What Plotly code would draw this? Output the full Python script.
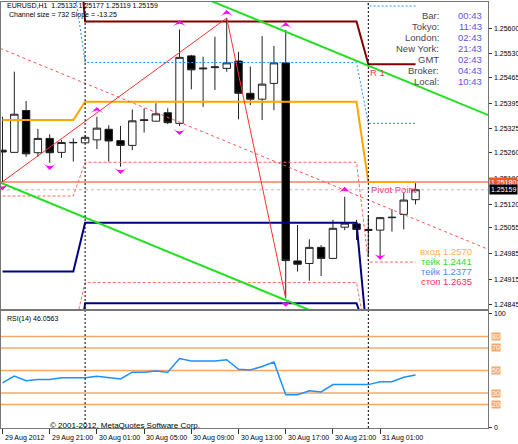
import plotly.graph_objects as go

W, H = 518, 444

# ------------------------------------------------------------------ data
symbol = "EURUSD,H1"
bars = list(range(36))  # 29 Aug 17:00 ... 31 Aug 04:00 (H1)
opens = [1.25267, 1.25261, 1.25375, 1.25260, 1.25299, 1.25261, 1.25287, 1.25287,
         1.25295, 1.25324, 1.25293, 1.25280, 1.25350, 1.25346, 1.25369, 1.25340,
         1.25524, 1.25491, 1.25492, 1.25490, 1.25510, 1.25422, 1.25406, 1.25449,
         1.25505, 1.24965, 1.24958, 1.25002, 1.24972, 1.25057, 1.25066, 1.25048,
         1.25049, 1.25083, 1.25092, 1.25132]
highs = [1.25358, 1.25481, 1.25401, 1.25325, 1.25310, 1.25295, 1.25299, 1.25308,
         1.25358, 1.25335, 1.25333, 1.25378, 1.25381, 1.25395, 1.25381, 1.25596,
         1.25527, 1.25522, 1.25576, 1.25627, 1.25535, 1.25495, 1.25578, 1.25551,
         1.25595, 1.25063, 1.25024, 1.25008, 1.25077, 1.25140, 1.25077, 1.25090,
         1.25085, 1.25106, 1.25151, 1.25177]
lows = [1.25181, 1.25261, 1.25249, 1.25249, 1.25233, 1.25246, 1.25236, 1.25286,
        1.25270, 1.25236, 1.25222, 1.25267, 1.25315, 1.25345, 1.25338, 1.25333,
        1.25433, 1.25385, 1.25431, 1.25481, 1.25351, 1.25390, 1.25349, 1.25376,
        1.24863, 1.24936, 1.24911, 1.24924, 1.24970, 1.25049, 1.25022, 1.24981,
        1.24975, 1.25045, 1.25051, 1.25119]
closes = [1.25262, 1.25365, 1.25257, 1.25299, 1.25260, 1.25288, 1.25288, 1.25302,
          1.25327, 1.25292, 1.25280, 1.25347, 1.25348, 1.25366, 1.25342, 1.25520,
          1.25486, 1.25489, 1.25494, 1.25505, 1.25422, 1.25406, 1.25447, 1.25505,
          1.24966, 1.24956, 1.25002, 1.24972, 1.25054, 1.25068, 1.25051, 1.25051,
          1.25083, 1.25084, 1.25131, 1.25159]
rsi_values = [39, 45, 41, 42, 42, 43.5, 43.5, 43.5, 45, 44, 42.5, 48.5, 48.5, 49.5,
              48.5, 60.5, 58.5, 58.5, 58.5, 59.5, 51, 50.5, 53.5, 57.5, 28.5, 28.5,
              32, 31, 37.5, 37.5, 37.5, 37.5, 40, 40, 44, 46.0563]
rsi_levels = [80, 70, 50, 30, 20]
rsi_axis_labels = [100, 0]

day_starts = [0, 7, 31]  # first bar of 29 Aug, 30 Aug, 31 Aug
level_r_top = [1.26000, 1.25618, 1.25501]    # maroon
level_blue_a = [1.25730, 1.25506, 1.25340]   # blue dotted
level_blue_b = [1.25900, 1.25850, 1.25660]   # blue dotted (upper)
level_orange = [1.25349, 1.25399, 1.25180]   # orange
level_red_a = [1.25142, 1.25234, 1.24962]    # red dashed
level_navy_a = [1.24936, 1.25069, 1.24720]   # navy
level_red_b = [1.24769, 1.24906, 1.24730]    # red dashed (lower)
level_navy_b = [1.24600, 1.24850, 1.24758]   # navy (lower)
pivot_price = 1.25180

zigzag_bars = [0, 19, 24]
zigzag_prices = [1.25181, 1.25627, 1.24863]

channel_start_bar = 0
channel_upper_start = 1.25908
channel_slope = -0.0001325
channel_size = 0.00732

up_fractal_bars = [8, 15, 19, 24, 29]
up_fractal_prices = [1.25385, 1.25622, 1.25649, 1.25616, 1.25167]
down_fractal_bars = [0, 4, 10, 15, 24, 32]
down_fractal_prices = [1.25158, 1.25213, 1.25202, 1.25308, 1.24840, 1.24968]

price_ticks = [1.25600, 1.25530, 1.25465, 1.25395, 1.25325, 1.25260, 1.25190,
               1.25120, 1.25055, 1.24985, 1.24915, 1.24845]
time_tick_bars = [0, 4, 8, 12, 16, 20, 24, 28, 32]
time_tick_labels = ["29 Aug 2012", "29 Aug 21:00", "30 Aug 01:00", "30 Aug 05:00",
                    "30 Aug 09:00", "30 Aug 13:00", "30 Aug 17:00", "30 Aug 21:00",
                    "31 Aug 01:00"]

info_names = ["Bar:", "Tokyo:", "London:", "New York:", "GMT", "Broker:", "Local:"]
info_values = ["00:43", "11:43", "02:43", "21:43", "02:43", "04:43", "10:43"]

trade_words = ["вход", "тейк", "тейк", "стоп"]
trade_prices = [1.2570, 1.2441, 1.2377, 1.2635]
trade_colors = ["#FFB050", "#33DD33", "#4A8FF0", "#FF3060"]

# ------------------------------------------------------------------ layout helpers
def px_x(x):
    return x / W


def px_y(y):
    return 1 - y / H


X_RANGE = [-0.127, 41.14]
MAIN_RANGE = [1.248340, 1.256709]
RSI_RANGE = [-0.885, 102.65]
X_DOM = [px_x(1), px_x(488)]
MAIN_DOM = [px_y(309), px_y(2)]
RSI_DOM = [px_y(428), px_y(311)]

FONT = "Liberation Sans, Arial, sans-serif"
SMALL = dict(family=FONT, size=7, color="#000")


def per_bar(levels):
    out = []
    for b in bars:
        d = sum(1 for s in day_starts if s <= b) - 1
        out.append(levels[d])
    return out


fig = go.Figure()

# candles
fig.add_trace(go.Candlestick(
    x=bars, open=opens, high=highs, low=lows, close=closes,
    increasing=dict(line=dict(color="#222", width=1), fillcolor="white"),
    decreasing=dict(line=dict(color="#222", width=1), fillcolor="#000"),
    hoverinfo="skip", xaxis="x", yaxis="y"))

# daily level lines
level_styles = [
    (level_blue_b, "#1E90FF", 1, "2px,2px"),
    (level_blue_a, "#1E90FF", 1, "2px,2px"),
    (level_red_a, "#FF6A5A", 1, "3px,2px"),
    (level_red_b, "#FF6A5A", 1, "3px,2px"),
    (level_r_top, "#800000", 2, "solid"),
    (level_orange, "#FFA500", 2, "solid"),
    (level_navy_a, "#000080", 2, "solid"),
    (level_navy_b, "#000080", 2, "solid"),
]
for vals, col, wd, dash in level_styles:
    fig.add_trace(go.Scatter(x=bars, y=per_bar(vals), mode="lines",
                             line=dict(color=col, width=wd, dash=dash),
                             hoverinfo="skip", xaxis="x", yaxis="y"))

# channel
cx = [X_RANGE[0] - 1, X_RANGE[1] + 1]
upper = [channel_upper_start + channel_slope * (b - channel_start_bar) for b in cx]
lower = [u - channel_size for u in upper]
mid = [u - channel_size / 2 for u in upper]
fig.add_trace(go.Scatter(x=cx, y=mid, mode="lines",
                         line=dict(color="#FF5050", width=1, dash="3px,3px"),
                         hoverinfo="skip", xaxis="x", yaxis="y"))
for ys in (upper, lower):
    fig.add_trace(go.Scatter(x=cx, y=ys, mode="lines",
                             line=dict(color="#22E022", width=2),
                             hoverinfo="skip", xaxis="x", yaxis="y"))

# zigzag
fig.add_trace(go.Scatter(x=zigzag_bars, y=zigzag_prices, mode="lines",
                         line=dict(color="#FF3030", width=1),
                         hoverinfo="skip", xaxis="x", yaxis="y"))

# fractals
fig.add_trace(go.Scatter(x=up_fractal_bars, y=up_fractal_prices, mode="markers",
                         marker=dict(symbol="arrow-wide", size=9, color="#FF00FF", angle=0),
                         hoverinfo="skip", xaxis="x", yaxis="y"))
fig.add_trace(go.Scatter(x=down_fractal_bars, y=down_fractal_prices, mode="markers",
                         marker=dict(symbol="arrow-wide", size=9, color="#FF00FF", angle=180),
                         hoverinfo="skip", xaxis="x", yaxis="y"))

# RSI
fig.add_trace(go.Scatter(x=bars, y=rsi_values, mode="lines",
                         line=dict(color="#1E90FF", width=1.5),
                         hoverinfo="skip", xaxis="x2", yaxis="y2"))

shapes = []
# pivot and bid lines
shapes.append(dict(type="line", xref="paper", yref="y", x0=X_DOM[0], x1=X_DOM[1],
                   y0=pivot_price, y1=pivot_price,
                   line=dict(color="#F5A08C", width=2), layer="below"))
shapes.append(dict(type="line", xref="paper", yref="y", x0=X_DOM[0], x1=X_DOM[1],
                   y0=closes[-1], y1=closes[-1],
                   line=dict(color="#B8B8B8", width=1, dash="dot"), layer="below"))
# RSI levels
for lv in rsi_levels:
    shapes.append(dict(type="line", xref="paper", yref="y2", x0=X_DOM[0], x1=X_DOM[1],
                       y0=lv, y1=lv, line=dict(color="#F6A868", width=1.5), layer="below"))
# day separators
for s in day_starts[1:]:
    for dom in (MAIN_DOM, RSI_DOM):
        shapes.append(dict(type="line", xref="x", yref="paper", x0=s, x1=s,
                           y0=dom[0], y1=dom[1],
                           line=dict(color="#000", width=1, dash="2px,2px")))

ann = []
ann.append(dict(xref="paper", yref="paper", x=px_x(5), y=px_y(6), xanchor="left",
                yanchor="middle", showarrow=False, font=SMALL,
                text=f"{symbol}  {opens[-1]:.5f} {highs[-1]:.5f} {lows[-1]:.5f} {closes[-1]:.5f}"))
ann.append(dict(xref="paper", yref="paper", x=px_x(7), y=px_y(15), xanchor="left",
                yanchor="middle", showarrow=False, font=SMALL,
                text=f"Channel size = {round(channel_size * 100000)} Slope = {channel_slope * 100000:.2f}"))
ann.append(dict(xref="paper", yref="paper", x=px_x(5), y=px_y(318.5), xanchor="left",
                yanchor="middle", showarrow=False, font=SMALL,
                text=f"RSI(14) {rsi_values[-1]:.4f}"))
ann.append(dict(xref="paper", yref="paper", x=px_x(48), y=px_y(425), xanchor="left",
                yanchor="middle", showarrow=False,
                font=dict(family=FONT, size=8, color="#000"),
                text="© 2001-2012, MetaQuotes Software Corp."))
# time labels
for b, t in zip(time_tick_bars, time_tick_labels):
    ann.append(dict(xref="x2", yref="paper", x=b, y=px_y(437.5), xanchor="left",
                    yanchor="middle", showarrow=False, font=SMALL, text=t, xshift=0))
# price axis labels
for p in price_ticks:
    ann.append(dict(xref="paper", yref="y", x=px_x(491.5), y=p, xanchor="left",
                    yanchor="middle", showarrow=False, font=SMALL, text=f"{p:.5f}"))
for v in rsi_axis_labels:
    ann.append(dict(xref="paper", yref="y2", x=px_x(491.5), y=v, xanchor="left",
                    yanchor="middle", showarrow=False, font=SMALL, text=str(v)))
# info panel
for i, (n, v) in enumerate(zip(info_names, info_values)):
    yy = px_y(15.3 + 11.07 * i)
    ann.append(dict(xref="paper", yref="paper", x=px_x(441), y=yy, xanchor="right",
                    yanchor="middle", showarrow=False,
                    font=dict(family=FONT, size=9.5, color="#4A4458"), text=n))
    ann.append(dict(xref="paper", yref="paper", x=px_x(484), y=yy, xanchor="right",
                    yanchor="middle", showarrow=False,
                    font=dict(family=FONT, size=9.5, color="#6A50E8"), text=v))
# level names
ann.append(dict(xref="x", yref="y", x=day_starts[2], y=level_r_top[2], xanchor="left",
                yanchor="top", showarrow=False, xshift=0, yshift=-1,
                font=dict(family=FONT, size=9.5, color="#F03C64"), text="R 1"))
ann.append(dict(xref="x", yref="y", x=day_starts[2], y=level_orange[2], xanchor="left",
                yanchor="top", showarrow=False, xshift=1, yshift=0,
                font=dict(family=FONT, size=9.5, color="#E8407C"), text="Pivot Point"))
# trade texts
for i, (wd, pr, col) in enumerate(zip(trade_words, trade_prices, trade_colors)):
    ann.append(dict(xref="paper", yref="paper", x=px_x(474), y=px_y(251.7 + 9.8 * i),
                    xanchor="right", yanchor="middle", showarrow=False,
                    font=dict(family=FONT, size=9.5, color=col),
                    text=f"{wd} {pr:.4f}"))
# price boxes on axis
for pr, bg in ((pivot_price, "#F0582C"), (closes[-1], "#000000")):
    ann.append(dict(xref="paper", yref="y", x=px_x(489), y=pr, xanchor="left",
                    yanchor="middle", showarrow=False, bgcolor=bg, borderpad=1,
                    font=dict(family=FONT, size=7, color="white"),
                    text=f"{pr:.5f}"))
# RSI level labels
for lv in rsi_levels:
    ann.append(dict(xref="paper", yref="y2", x=px_x(491), y=lv, xanchor="left",
                    yanchor="middle", showarrow=False, bgcolor="#F6A868", borderpad=0,
                    font=dict(family=FONT, size=7, color="white"),
                    text=str(lv)))

axis_common = dict(showgrid=False, zeroline=False, showline=True, mirror=True,
                   linecolor="#777", linewidth=1)
fig.update_layout(
    width=W, height=H, margin=dict(l=0, r=0, t=0, b=0),
    paper_bgcolor="white", plot_bgcolor="white", showlegend=False,
    boxgap=0.1,
    xaxis=dict(domain=X_DOM, range=X_RANGE, anchor="y", showticklabels=False,
               ticks="", rangeslider=dict(visible=False), **axis_common),
    yaxis=dict(domain=MAIN_DOM, range=MAIN_RANGE, anchor="x", side="right",
               tickvals=price_ticks, showticklabels=False,
               ticks="outside", ticklen=3, tickcolor="#333", **axis_common),
    xaxis2=dict(domain=X_DOM, range=X_RANGE, anchor="y2", showticklabels=False,
                tickvals=time_tick_bars, ticks="outside", ticklen=5, tickcolor="#333",
                **axis_common),
    yaxis2=dict(domain=RSI_DOM, range=RSI_RANGE, anchor="x2", side="right",
                tickvals=rsi_axis_labels, showticklabels=False,
                ticks="outside", ticklen=3, tickcolor="#333", **axis_common),
    shapes=shapes, annotations=ann,
)

fig.write_html("out.html", config={"displayModeBar": False},
               post_script="document.body.style.margin='0px';document.body.style.padding='0px';")
